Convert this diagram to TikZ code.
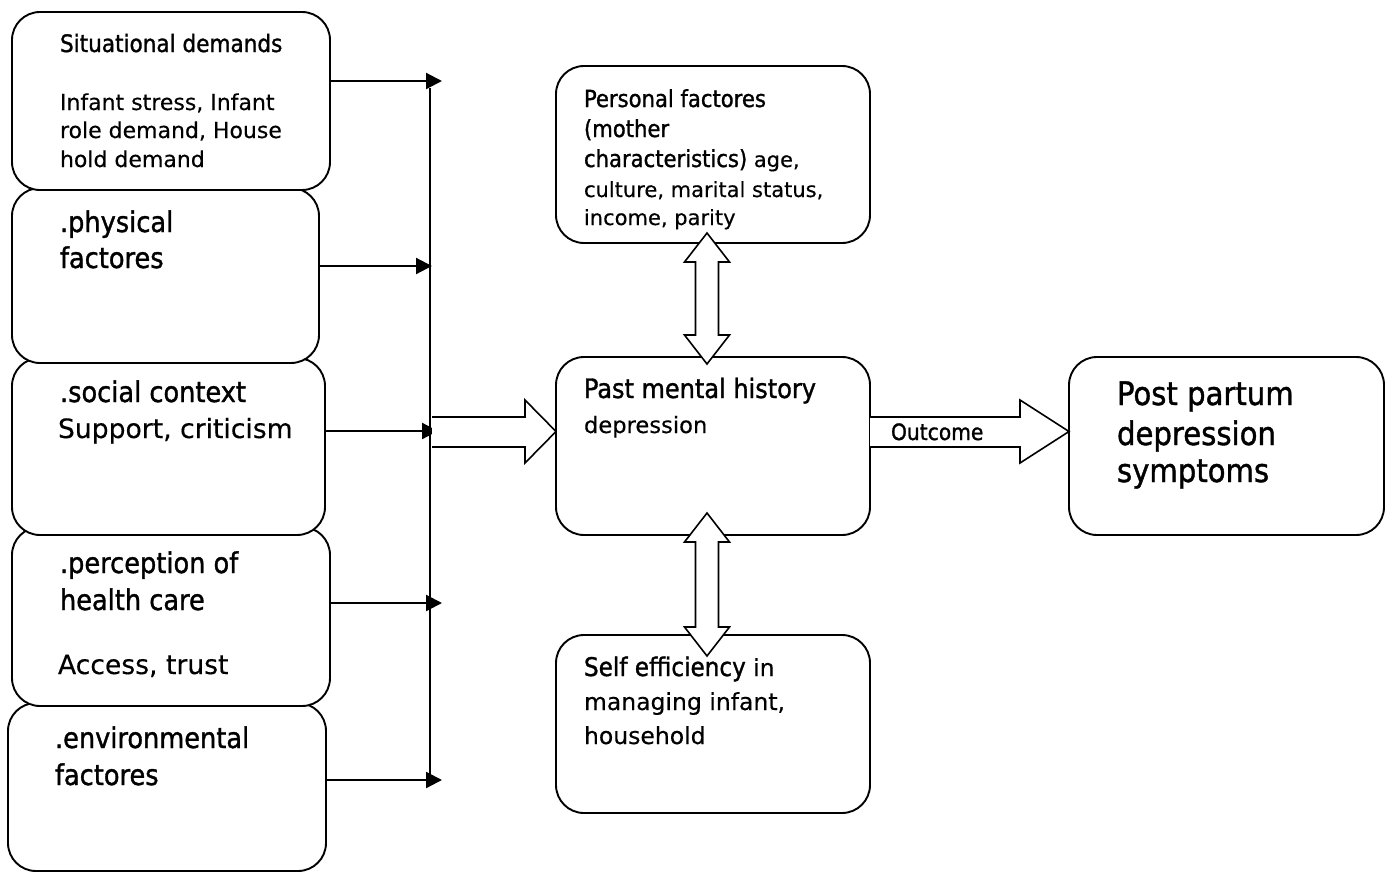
\documentclass[tikz,border=0pt]{standalone}
\usepackage{fontspec}
\usetikzlibrary{arrows.meta}
\newfontfamily\hd[FakeBold=1.2]{DejaVu Sans Condensed}
\newfontfamily\bd[FakeBold=0.3]{DejaVu Sans}
\newcommand\hs[1]{\hd\fontsize{#1}{#1}\selectfont}
\newcommand\bs[1]{\bd\fontsize{#1}{#1}\selectfont}
\begin{document}
\begin{tikzpicture}[x=1pt,y=-1pt,
  box/.style={draw=black, fill=white, line width=1.9pt, rounded corners=28pt, inner sep=0pt, outer sep=0pt},
  lbl/.style={anchor=base west, inner sep=0pt, outer sep=0pt},
  feed/.style={line width=2.2pt, -{Triangle[length=16pt,width=16pt]}},
  bus/.style={line width=1.8pt},
  blk/.style={draw=black, fill=white, line width=1.6pt, line join=miter}]
\useasboundingbox (0,0) rectangle (1389,873);
% left column boxes (upper ones drawn on top)
\node[box, minimum width=318pt, minimum height=168pt] (env) at (167,787) {};
\node[box, minimum width=318pt, minimum height=179pt] (per) at (171,616.5) {};
\node[box, minimum width=313pt, minimum height=177pt] (soc) at (168.5,446.5) {};
\node[box, minimum width=307pt, minimum height=175pt] (phy) at (165.5,275.5) {};
\node[box, minimum width=318pt, minimum height=178pt] (sit) at (171,101) {};
% middle and right boxes
\node[box, minimum width=314pt, minimum height=177pt] (pers) at (713,154.5) {};
\node[box, minimum width=314pt, minimum height=178pt] (past) at (713,446) {};
\node[box, minimum width=314pt, minimum height=178pt] (self) at (713,724) {};
\node[box, minimum width=315pt, minimum height=178pt] (ppd) at (1226.5,446) {};
% bus line and feeder arrows
\coordinate (bt) at (430,88);
\coordinate (bb) at (430,781);
\draw[bus] (bt) -- (bb);
\coordinate (j1) at (442,81);
\coordinate (j2) at (432,266);
\coordinate (j3) at (438,431);
\coordinate (j4) at (442,603);
\coordinate (j5) at (442,780);
\draw[feed] (sit.east |- j1) -- (j1);
\draw[feed] (phy.east |- j2) -- (j2);
\draw[feed] (soc.east |- j3) -- (j3);
\draw[feed] (per.east |- j4) -- (j4);
\draw[feed] (env.east |- j5) -- (j5);
% block arrow into past mental history
\draw[blk] (432,417) -- (525,417) -- (525,400) -- (556,431.5) -- (525,463) -- (525,447) -- (432,447);
% outcome arrow
\draw[blk] (870,417) -- (1020,417) -- (1020,400) -- (1069,431.5) -- (1020,463) -- (1020,447) -- (870,447);
% double arrows
\draw[blk] (707,233) -- (729.5,262) -- (718.5,262) -- (718.5,335) -- (729.5,335) -- (707,364)
  -- (684.5,335) -- (695.5,335) -- (695.5,262) -- (684.5,262) -- cycle;
\draw[blk] (707,513) -- (729.5,542) -- (718.5,542) -- (718.5,627) -- (729.5,627) -- (707,656)
  -- (684.5,627) -- (695.5,627) -- (695.5,542) -- (684.5,542) -- cycle;
% texts
\node[lbl] (t1) at (60,52) {\hs{24}Situational demands};
\node[lbl] (t2) at (60,110) {\bs{22}Infant stress, Infant};
\node[lbl] (t3) at (60,138) {\bs{22}role demand, House};
\node[lbl] (t4) at (60,167) {\bs{22}hold demand};
\node[lbl] (t5) at (60,232) {\hs{28.5}.physical};
\node[lbl] (t6) at (60,268) {\hs{28.5}factores};
\node[lbl] (t7) at (60,402) {\hs{28.5}.social context};
\node[lbl] (t8) at (58,438) {\bs{26.6}Support, criticism};
\node[lbl] (t9) at (60,573) {\hs{28.5}.perception of};
\node[lbl] (t10) at (60,610) {\hs{28.5}health care};
\node[lbl] (t11) at (58,674) {\bs{26.6}Access, trust};
\node[lbl] (t12) at (55,748) {\hs{28.5}.environmental};
\node[lbl] (t13) at (55,785) {\hs{28.5}factores};
\begin{scope}
\clip (556,66) rectangle (870,229);
\node[lbl] (t14) at (584,107) {\hs{23.5}Personal factores};
\node[lbl] (t15) at (584,137) {\hs{23.5}(mother};
\node[lbl] (t16) at (584,167) {\hs{23.5}characteristics) \bs{21}age,};
\node[lbl] (t17) at (584,197) {\bs{21}culture, marital status,};
\node[lbl] (t18) at (584,225) {\bs{21}income, parity};
\end{scope}
\node[lbl] (t19) at (584,398) {\hs{26.7}Past mental history};
\node[lbl] (t20) at (584,433) {\bs{22.6}depression};
\node[lbl] (t21) at (584,676) {\hs{25.7}Self efficiency \bs{23.5}in};
\node[lbl] (t22) at (584,710) {\bs{23.5}managing infant,};
\node[lbl] (t23) at (584,744) {\bs{23.5}household};
\node[lbl] (t24) at (1117,405) {\hs{32.4}Post partum};
\node[lbl] (t25) at (1117,445) {\hs{32.4}depression};
\node[lbl] (t26) at (1117,482) {\hs{32.4}symptoms};
\node[lbl] (t27) at (891,440) {\hs{22.5}Outcome};
\end{tikzpicture}
\end{document}
